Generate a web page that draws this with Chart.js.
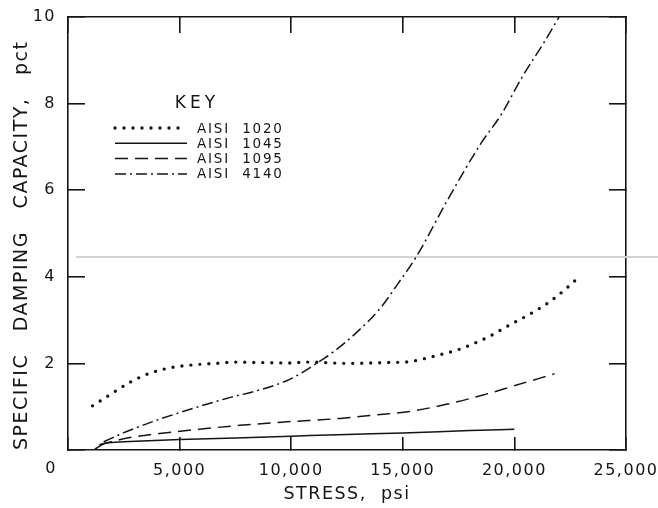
<!DOCTYPE html>
<html><head><meta charset="utf-8">
<script src="https://cdn.jsdelivr.net/npm/chart.js@4.4.1/dist/chart.umd.min.js"></script>
<style>html,body{margin:0;padding:0;background:#fff;}#wrap{width:658px;height:508px;}</style>
</head><body><div id="wrap"><canvas id="c" width="658" height="508"></canvas></div>
<script>
// ---- data ----
const SERIES_LABELS = ['AISI  1020', 'AISI  1045', 'AISI  1095', 'AISI  4140'];

const X_1020 = [1100, 1500, 2100, 2800, 3600, 4500, 5500, 6600, 7500, 8500, 9900, 10800, 12500, 14300, 15300, 15800, 16600, 17500, 18000, 18900, 19800, 20700, 21600, 22300, 22900];
const Y_1020 = [1.02, 1.15, 1.35, 1.57, 1.76, 1.89, 1.96, 2.0, 2.03, 2.02, 2.01, 2.03, 2.0, 2.02, 2.04, 2.09, 2.19, 2.32, 2.42, 2.63, 2.89, 3.14, 3.43, 3.72, 4.0];

const X_1045 = [1200, 1700, 2500, 5000, 7500, 10000, 12500, 15000, 18000, 20000];
const Y_1045 = [0.02, 0.16, 0.19, 0.24, 0.28, 0.32, 0.36, 0.39, 0.45, 0.48];

const X_1095 = [1400, 2600, 4100, 5900, 7700, 9800, 12200, 13800, 15300, 17000, 18600, 20100, 21800];
const Y_1095 = [0.12, 0.27, 0.38, 0.48, 0.57, 0.65, 0.73, 0.81, 0.89, 1.06, 1.27, 1.5, 1.76];

const X_4140 = [1600, 2600, 4100, 5600, 7100, 8600, 9800, 10400, 11100, 11900, 12900, 14000, 14700, 15600, 17000, 18500, 19400, 20400, 21300, 22000];
const Y_4140 = [0.19, 0.42, 0.71, 0.96, 1.19, 1.39, 1.6, 1.76, 1.99, 2.27, 2.70, 3.28, 3.78, 4.46, 5.77, 7.08, 7.74, 8.66, 9.39, 10.0];

const X_TICKS = [0, 5000, 10000, 15000, 20000, 25000];
const Y_TICKS = [0, 2, 4, 6, 8, 10];
const X_TITLE = 'STRESS,  psi';
const Y_TITLE = 'SPECIFIC   DAMPING   CAPACITY,   pct';
const KEY_TITLE = 'KEY';
const SCAN_LINE_VALUE = 4.46; // faint grey scan line across the figure

// ---- build ----
const pts = (xs, ys) => xs.map((x, i) => ({x, y: ys[i]}));
const FONT = '"DejaVu Sans", "Liberation Sans", sans-serif';
const INK = '#151515';

const datasets = [
  {label: SERIES_LABELS[0], data: pts(X_1020, Y_1020), borderDash: [0, 9], borderWidth: 3.4, borderCapStyle: 'round'},
  {label: SERIES_LABELS[1], data: pts(X_1045, Y_1045), borderDash: [], borderWidth: 1.5, borderCapStyle: 'butt'},
  {label: SERIES_LABELS[2], data: pts(X_1095, Y_1095), borderDash: [13, 7], borderWidth: 1.5, borderCapStyle: 'butt'},
  {label: SERIES_LABELS[3], data: pts(X_4140, Y_4140), borderDash: [11, 4, 2, 4], borderWidth: 1.5, borderCapStyle: 'butt'}
].map(d => Object.assign(d, {borderColor: INK, backgroundColor: INK, pointRadius: 0, fill: false, cubicInterpolationMode: 'monotone'}));

const strokeLine = (ctx, x1, y1, x2, y2) => { ctx.beginPath(); ctx.moveTo(x1, y1); ctx.lineTo(x2, y2); ctx.stroke(); };

const decor = {
  id: 'decor',
  beforeDraw(chart) { chart.ctx.letterSpacing = '1.5px'; },
  beforeDatasetsDraw(chart) {
    const {ctx, chartArea: a, scales: {y}} = chart;
    const py = y.getPixelForValue(SCAN_LINE_VALUE);
    ctx.save();
    ctx.strokeStyle = '#d2d2d2'; ctx.lineWidth = 2;
    strokeLine(ctx, a.left + 8, py, chart.width, py);
    ctx.restore();
  },
  afterDraw(chart) {
    const {ctx, chartArea: a, scales: {x}} = chart;
    ctx.save();
    ctx.fillStyle = INK;
    ctx.textAlign = 'center'; ctx.textBaseline = 'middle';
    // shared origin label
    ctx.font = '16px ' + FONT; ctx.letterSpacing = '1.5px';
    ctx.fillText(String(X_TICKS[0]), x.getPixelForValue(X_TICKS[0]) - 17, a.bottom + 19);
    // key
    ctx.font = '17px ' + FONT; ctx.letterSpacing = '4px';
    ctx.fillText(KEY_TITLE, a.left + 129, a.top + 87);
    ctx.font = '13.5px ' + FONT; ctx.letterSpacing = '1.8px';
    ctx.textAlign = 'left';
    chart.data.datasets.forEach((d, i) => {
      const ry = a.top + 111 + i * 15.3;
      ctx.save();
      ctx.strokeStyle = d.borderColor; ctx.lineWidth = d.borderWidth;
      ctx.lineCap = d.borderCapStyle; ctx.setLineDash(d.borderDash);
      strokeLine(ctx, a.left + 47, ry, a.left + 119, ry);
      ctx.restore();
      ctx.fillText(d.label, a.left + 129, ry + 1);
    });
    ctx.restore();
  }
};

const tickFont = {family: FONT, size: 16};
const border = {display: true, color: INK, width: 1.6};
const setX = s => { s.ticks = X_TICKS.map(v => ({value: v})); };
const setY = s => { s.ticks = Y_TICKS.map(v => ({value: v})); };
const noPadX = s => { s.paddingLeft = 0; s.paddingRight = 0; };
const noPadY = s => { s.paddingTop = 0; s.paddingBottom = 0; };
const inwardGrid = len => ({display: true, drawOnChartArea: false, drawTicks: true, tickLength: -len, color: INK, lineWidth: 1.6});

new Chart(document.getElementById('c'), {
  type: 'line',
  data: {datasets},
  plugins: [decor],
  options: {
    responsive: false, animation: false, devicePixelRatio: 1,
    layout: {padding: 0},
    plugins: {legend: {display: false}, tooltip: {enabled: false}},
    scales: {
      x: {
        type: 'linear', position: 'bottom', min: X_TICKS[0], max: X_TICKS[X_TICKS.length - 1],
        afterBuildTicks: setX,
        afterFit: s => { s.height = 58; noPadX(s); },
        grid: inwardGrid(13),
        border,
        ticks: {color: INK, font: tickFont, padding: 24, maxRotation: 0, autoSkip: false,
                callback: v => v === 0 ? '' : v.toLocaleString('en-US')},
        title: {display: true, text: X_TITLE, color: INK, font: {family: FONT, size: 17.5}, padding: {top: 0, bottom: 3}}
      },
      x2: {
        type: 'linear', position: 'top', min: X_TICKS[0], max: X_TICKS[X_TICKS.length - 1],
        afterBuildTicks: setX,
        afterFit: s => { s.height = 17; noPadX(s); },
        grid: inwardGrid(16),
        border,
        ticks: {display: false}
      },
      y: {
        type: 'linear', position: 'left', min: Y_TICKS[0], max: Y_TICKS[Y_TICKS.length - 1],
        afterBuildTicks: setY,
        afterFit: s => { s.width = 68; noPadY(s); },
        grid: inwardGrid(17),
        border,
        ticks: {color: INK, font: tickFont, padding: 29, callback: v => v === 0 ? '' : String(v)},
        title: {display: true, text: Y_TITLE, align: 'start', color: INK, font: {family: FONT, size: 19}, padding: {top: 11, bottom: 0}}
      },
      y2: {
        type: 'linear', position: 'right', min: Y_TICKS[0], max: Y_TICKS[Y_TICKS.length - 1],
        afterBuildTicks: setY,
        afterFit: s => { s.width = 32; noPadY(s); },
        grid: inwardGrid(17),
        border,
        ticks: {display: false}
      }
    }
  }
});
</script></body></html>
